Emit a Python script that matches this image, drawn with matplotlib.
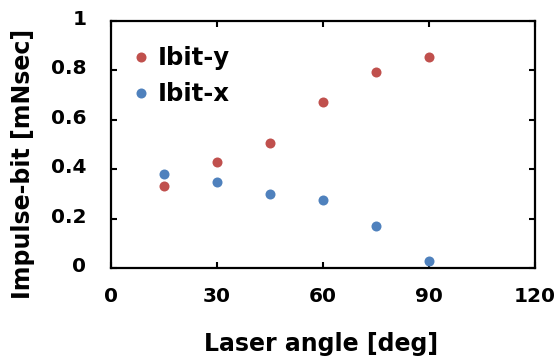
import matplotlib
matplotlib.use("Agg")
import matplotlib.pyplot as plt
from matplotlib.transforms import ScaledTranslation

angles = [15, 30, 45, 60, 75, 90]
ibit_y = [0.332, 0.429, 0.505, 0.671, 0.794, 0.854]
ibit_x = [0.382, 0.347, 0.301, 0.274, 0.170, 0.027]
xticks = [0, 30, 60, 90, 120]
yticks = [0, 0.2, 0.4, 0.6, 0.8, 1]
yticklabels = ["0", "0.2", "0.4", "0.6", "0.8", "1"]

plt.rcParams['font.family'] = ['DejaVu Sans']
plt.rcParams['font.weight'] = 'bold'

fig = plt.figure(figsize=(5.58, 3.6), dpi=100)
ax = fig.add_axes([0.1984, 0.2556, 0.7599, 0.6869])

ax.scatter(angles, ibit_y, s=52, color='#C0504D', label='Ibit-y', zorder=3, linewidths=0)
ax.scatter(angles, ibit_x, s=52, color='#4F81BD', label='Ibit-x', zorder=3, linewidths=0)

ax.set_xlim(0, 120)
ax.set_ylim(0, 1)
ax.set_xticks(xticks)
ax.set_xticklabels([str(t) for t in xticks], fontsize=14.5, fontweight='bold')
ax.set_yticks(yticks)
ax.set_yticklabels(yticklabels, fontsize=14.5, fontweight='bold')
ax.tick_params(direction='in', length=4.5, width=1.5, top=True, right=True)
ax.tick_params(axis='x', pad=14)
ax.tick_params(axis='y', pad=17.5)
for sp in ax.spines.values():
    sp.set_linewidth(1.6)

off = ScaledTranslation(0, 3.5 / 100, fig.dpi_scale_trans)
for lab in ax.get_yticklabels():
    lab.set_transform(lab.get_transform() + off)

ax.set_xlabel('Laser angle [deg]', fontsize=17, fontweight='bold', va='center')
ax.xaxis.set_label_coords(0.497, -0.306)
ax.set_ylabel('Impulse-bit [mNsec]', fontsize=17, fontweight='bold', va='center', ha='center')
ax.yaxis.set_label_coords(-0.208, 0.421)

leg = ax.legend(loc='upper left', bbox_to_anchor=(0.049, 0.897), frameon=False,
                prop={'size': 17.5, 'weight': 'bold'}, handlelength=0.8,
                handletextpad=0.3, labelspacing=0.49, borderaxespad=0,
                borderpad=0, scatteryoffsets=[0.5])

fig.savefig('out.png', dpi=100)
